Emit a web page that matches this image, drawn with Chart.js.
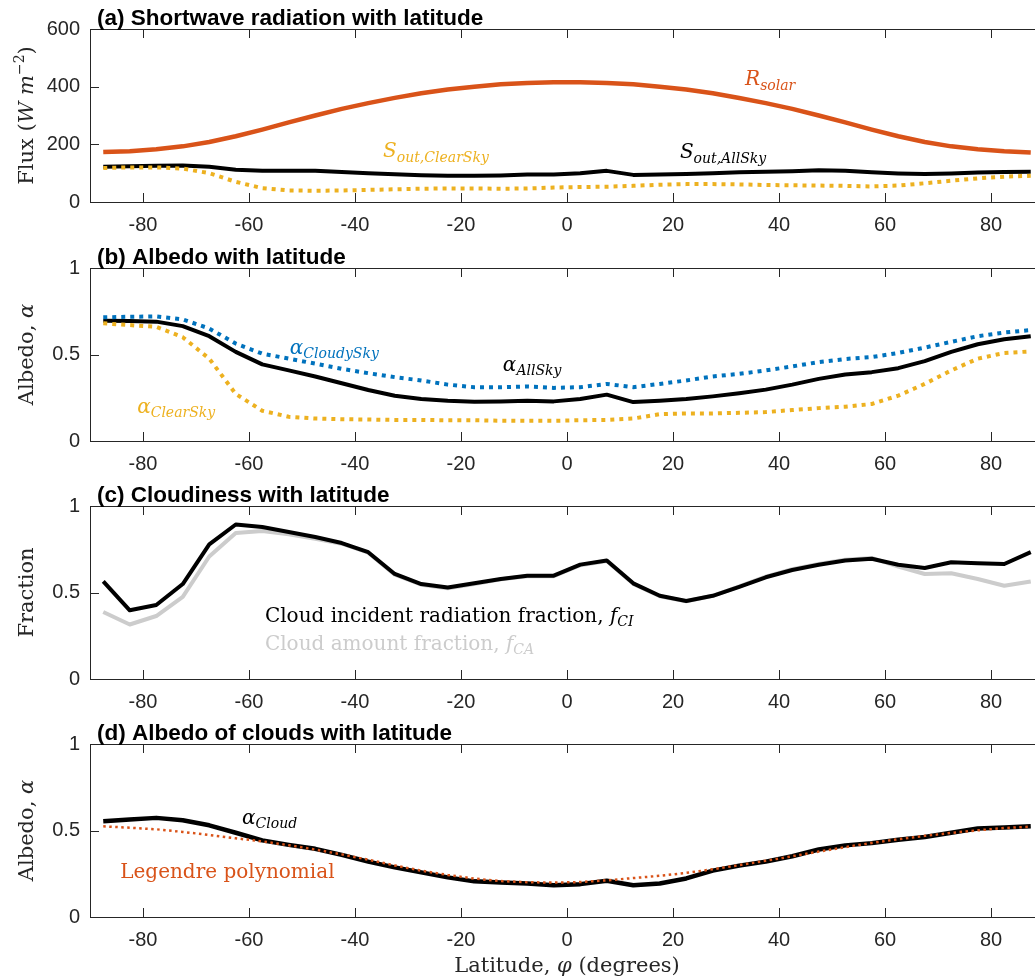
<!DOCTYPE html>
<html>
<head>
<meta charset="utf-8">
<script src="https://cdn.jsdelivr.net/npm/chart.js@4"></script>
<style>
  html, body { margin: 0; padding: 0; background: #fff; overflow: hidden; width: 1035px; height: 980px; }
  canvas { position: absolute; left: 0; }
</style>
</head>
<body>
<canvas id="pa" width="1100" height="240" style="top:0px"></canvas>
<canvas id="pb" width="1100" height="240" style="top:239px"></canvas>
<canvas id="pc" width="1100" height="240" style="top:477px"></canvas>
<canvas id="pd" width="1100" height="265" style="top:715px"></canvas>
<script>
// latitude band centres (degrees)
const lat = [-87.5, -82.5, -77.5, -72.5, -67.5, -62.5, -57.5, -52.5, -47.5, -42.5, -37.5, -32.5,
  -27.5, -22.5, -17.5, -12.5, -7.5, -2.5, 2.5, 7.5, 12.5, 17.5, 22.5, 27.5,
  32.5, 37.5, 42.5, 47.5, 52.5, 57.5, 62.5, 67.5, 72.5, 77.5, 82.5, 87.5];

// (a) fluxes, W m^-2
const rSolar = [173, 176, 183, 193, 208, 228, 251, 276, 300, 323, 343, 361, 377, 390, 400, 408, 413, 415,
  415, 413, 408, 400, 390, 377, 361, 343, 323, 300, 276, 251, 228, 208, 193, 183, 176, 172];
const sOutAllSky = [122, 124, 126, 127, 122, 112, 108, 108, 108, 104, 100, 96, 93, 91, 91, 92, 95, 95,
  100, 108, 94, 95, 97, 100, 103, 105, 107, 110, 108, 103, 99, 97, 99, 102, 104, 105];
const sOutClearSky = [118, 120, 120, 116, 100, 70, 48, 40, 39, 40, 42, 44, 46, 47, 47, 46, 47, 50,
  52, 53, 56, 60, 62, 62, 61, 59, 58, 57, 56, 54, 57, 65, 74, 82, 88, 91];

// (b) albedo
const albedoAllSky = [0.695, 0.693, 0.69, 0.664, 0.606, 0.515, 0.443, 0.408, 0.373, 0.334, 0.295, 0.262,
  0.243, 0.233, 0.227, 0.229, 0.233, 0.229, 0.243, 0.268, 0.225, 0.233, 0.243, 0.258,
  0.276, 0.297, 0.326, 0.359, 0.384, 0.398, 0.421, 0.462, 0.515, 0.559, 0.588, 0.606];
const albedoCloudySky = [0.715, 0.718, 0.72, 0.703, 0.65, 0.563, 0.505, 0.476, 0.447, 0.417, 0.392, 0.369,
  0.35, 0.326, 0.311, 0.311, 0.315, 0.307, 0.311, 0.33, 0.311, 0.33, 0.35, 0.373,
  0.388, 0.408, 0.431, 0.456, 0.474, 0.485, 0.509, 0.54, 0.573, 0.606, 0.627, 0.641];
const albedoClearSky = [0.68, 0.67, 0.66, 0.6, 0.476, 0.272, 0.175, 0.14, 0.13, 0.126, 0.124, 0.122,
  0.122, 0.12, 0.12, 0.117, 0.117, 0.117, 0.12, 0.122, 0.13, 0.155, 0.159, 0.159,
  0.163, 0.167, 0.179, 0.19, 0.198, 0.214, 0.262, 0.33, 0.408, 0.476, 0.509, 0.518];

// (c) cloudiness
const fracCI = [0.564, 0.397, 0.428, 0.549, 0.778, 0.893, 0.879, 0.85, 0.821, 0.786, 0.733, 0.607,
  0.549, 0.529, 0.553, 0.578, 0.597, 0.597, 0.661, 0.685, 0.553, 0.481, 0.451, 0.481,
  0.533, 0.588, 0.63, 0.66, 0.685, 0.695, 0.66, 0.642, 0.675, 0.669, 0.665, 0.733];
const fracCA = [0.387, 0.315, 0.364, 0.475, 0.708, 0.844, 0.856, 0.837, 0.811, 0.782, 0.73, 0.603,
  0.545, 0.525, 0.549, 0.576, 0.594, 0.594, 0.658, 0.682, 0.55, 0.478, 0.449, 0.481,
  0.535, 0.592, 0.635, 0.665, 0.69, 0.7, 0.65, 0.607, 0.611, 0.578, 0.539, 0.564];

// (d) cloud albedo and its Legendre fit
const albedoCloud = [0.553, 0.563, 0.573, 0.559, 0.53, 0.487, 0.443, 0.417, 0.394, 0.359, 0.32, 0.287,
  0.258, 0.229, 0.206, 0.2, 0.194, 0.184, 0.19, 0.21, 0.184, 0.194, 0.223, 0.268,
  0.297, 0.32, 0.351, 0.39, 0.414, 0.427, 0.447, 0.462, 0.487, 0.511, 0.517, 0.524];
const legendreFit = [0.524, 0.516, 0.507, 0.492, 0.474, 0.455, 0.437, 0.415, 0.39, 0.362, 0.331, 0.298,
  0.268, 0.243, 0.222, 0.208, 0.201, 0.199, 0.202, 0.212, 0.225, 0.238, 0.255, 0.276,
  0.3, 0.325, 0.351, 0.378, 0.404, 0.428, 0.45, 0.469, 0.486, 0.501, 0.514, 0.522];

// tick labels
const xTicks = [-80, -60, -40, -20, 0, 20, 40, 60, 80];
const fluxTicks = [0, 200, 400, 600];
const unitTicks = [0, 0.5, 1];

const RED = '#D95319', YEL = '#EDB120', BLUE = '#0072BD', GREY = '#CCCCCC', AX = '#262626';
const SERIF = '"DejaVu Serif", serif';
const SANS = '"Liberation Sans", Arial, sans-serif';

const pts = ys => ys.map((y, i) => ({ x: lat[i], y: y }));

function richText(ctx, segs, x, y, color, centred, big) {
  const main = big ? 21 : 20;
  const size = s => (s.sub || s.sup) ? 14 : main;
  const font = s => (s.it ? 'italic ' : '') + size(s) + 'px ' + SERIF;
  let w = 0;
  segs.forEach(s => { ctx.font = font(s); w += ctx.measureText(s.t).width; });
  let cx = centred ? x - w / 2 : x;
  ctx.fillStyle = color;
  ctx.textBaseline = 'middle';
  ctx.textAlign = 'left';
  segs.forEach(s => {
    ctx.font = font(s);
    const dy = s.sub ? 6 : (s.sup ? -8 : 0);
    ctx.fillText(s.t, cx, y + dy);
    cx += ctx.measureText(s.t).width;
  });
}

function framePlugin(cfg) {
  return {
    id: 'frame',
    afterDraw(chart) {
      const ctx = chart.ctx, a = chart.chartArea;
      const xs = chart.scales.x, ys = chart.scales.y;
      ctx.save();
      // box with inward ticks
      ctx.strokeStyle = AX;
      ctx.lineWidth = 1;
      ctx.strokeRect(Math.round(a.left) + 0.5, Math.round(a.top) + 0.5, a.right - a.left, a.bottom - a.top);
      ctx.beginPath();
      xTicks.forEach(v => {
        const px = Math.round(xs.getPixelForValue(v)) + 0.5;
        ctx.moveTo(px, a.bottom); ctx.lineTo(px, a.bottom - 9);
        ctx.moveTo(px, a.top); ctx.lineTo(px, a.top + 9);
      });
      cfg.yTicks.forEach(v => {
        const py = Math.round(ys.getPixelForValue(v)) + 0.5;
        ctx.moveTo(a.left, py); ctx.lineTo(a.left + 9, py);
        ctx.moveTo(a.right, py); ctx.lineTo(a.right - 9, py);
      });
      ctx.stroke();
      // panel title
      ctx.fillStyle = '#000';
      ctx.font = 'bold 22.5px ' + SANS;
      ctx.textAlign = 'left';
      ctx.textBaseline = 'alphabetic';
      ctx.fillText(cfg.title, 97, a.top - 4);
      // y axis title
      ctx.save();
      ctx.translate(28, (a.top + a.bottom) / 2);
      ctx.rotate(-Math.PI / 2);
      richText(ctx, cfg.yTitle, 0, 0, AX, true, true);
      ctx.restore();
      if (cfg.xTitle) richText(ctx, cfg.xTitle, xs.getPixelForValue(0), a.bottom + 50, AX, true, true);
      // inline labels
      cfg.notes.forEach(n => {
        richText(ctx, n.segs, xs.getPixelForValue(n.at[0]), ys.getPixelForValue(n.at[1]), n.color, false, false);
      });
      ctx.restore();
    }
  };
}

function makePanel(id, datasets, yMax, yTicks, cfg) {
  const canvas = document.getElementById(id);
  const xHeight = canvas.height - 29 - 173;
  cfg.yTicks = yTicks;
  return new Chart(canvas, {
    type: 'line',
    data: { datasets: datasets },
    options: {
      responsive: false,
      animation: false,
      devicePixelRatio: 1,
      layout: { padding: { top: 29, right: 56, left: 0, bottom: 0 } },
      plugins: { legend: { display: false }, tooltip: { enabled: false } },
      elements: { point: { radius: 0 }, line: { tension: 0, borderJoinStyle: 'round' } },
      scales: {
        x: {
          type: 'linear', min: -90, max: 90,
          grid: { display: false, drawTicks: false }, border: { display: false },
          afterBuildTicks: s => { s.ticks = xTicks.map(v => ({ value: v })); },
          afterFit: s => { s.height = xHeight; },
          ticks: { padding: 11, color: AX, font: { family: SANS, size: 20 }, callback: v => String(v) }
        },
        y: {
          min: 0, max: yMax,
          grid: { display: false, drawTicks: false }, border: { display: false },
          afterBuildTicks: s => { s.ticks = yTicks.map(v => ({ value: v })); },
          afterFit: s => { s.width = 90; },
          ticks: { padding: 10, color: AX, font: { family: SANS, size: 20 }, callback: v => String(v) }
        }
      }
    },
    plugins: [framePlugin(cfg)]
  });
}

const dotted = [4, 5];

makePanel('pa', [
  { data: pts(sOutClearSky), borderColor: YEL, borderWidth: 4, borderDash: dotted, borderCapStyle: 'butt' },
  { data: pts(sOutAllSky), borderColor: '#000', borderWidth: 4 },
  { data: pts(rSolar), borderColor: RED, borderWidth: 4.5 }
], 600, fluxTicks, {
  title: '(a) Shortwave radiation with latitude',
  yTitle: [{ t: 'Flux (' }, { t: 'W m', it: 1 }, { t: '\u22122', sup: 1 }, { t: ')' }],
  notes: [
    { segs: [{ t: 'R', it: 1 }, { t: 'solar', it: 1, sub: 1 }], at: [33.6, 423], color: RED },
    { segs: [{ t: 'S', it: 1 }, { t: 'out,ClearSky', it: 1, sub: 1 }], at: [-34.7, 173], color: YEL },
    { segs: [{ t: 'S', it: 1 }, { t: 'out,AllSky', it: 1, sub: 1 }], at: [21.3, 170], color: '#000' }
  ]
});

makePanel('pb', [
  { data: pts(albedoClearSky), borderColor: YEL, borderWidth: 4, borderDash: dotted, borderCapStyle: 'butt' },
  { data: pts(albedoCloudySky), borderColor: BLUE, borderWidth: 4, borderDash: dotted, borderCapStyle: 'butt' },
  { data: pts(albedoAllSky), borderColor: '#000', borderWidth: 4 }
], 1, unitTicks, {
  title: '(b) Albedo with latitude',
  yTitle: [{ t: 'Albedo, ' }, { t: '\u03b1', it: 1 }],
  notes: [
    { segs: [{ t: '\u03b1', it: 1 }, { t: 'CloudySky', it: 1, sub: 1 }], at: [-52.3, 0.535], color: BLUE },
    { segs: [{ t: '\u03b1', it: 1 }, { t: 'AllSky', it: 1, sub: 1 }], at: [-12.1, 0.436], color: '#000' },
    { segs: [{ t: '\u03b1', it: 1 }, { t: 'ClearSky', it: 1, sub: 1 }], at: [-81.1, 0.192], color: YEL }
  ]
});

makePanel('pc', [
  { data: pts(fracCI), borderColor: '#000', borderWidth: 4 },
  { data: pts(fracCA), borderColor: GREY, borderWidth: 4 }
], 1, unitTicks, {
  title: '(c) Cloudiness with latitude',
  yTitle: [{ t: 'Fraction' }],
  notes: [
    { segs: [{ t: 'Cloud incident radiation fraction, ' }, { t: 'f', it: 1 }, { t: 'CI', it: 1, sub: 1 }], at: [-57, 0.36], color: '#000' },
    { segs: [{ t: 'Cloud amount fraction, ' }, { t: 'f', it: 1 }, { t: 'CA', it: 1, sub: 1 }], at: [-57, 0.198], color: GREY }
  ]
});

makePanel('pd', [
  { data: pts(legendreFit), borderColor: RED, borderWidth: 2.5, borderDash: [2.5, 3.5], borderCapStyle: 'butt' },
  { data: pts(albedoCloud), borderColor: '#000', borderWidth: 4.5 }
], 1, unitTicks, {
  title: '(d) Albedo of clouds with latitude',
  yTitle: [{ t: 'Albedo, ' }, { t: '\u03b1', it: 1 }],
  xTitle: [{ t: 'Latitude, ' }, { t: '\u03c6', it: 1 }, { t: ' (degrees)' }],
  notes: [
    { segs: [{ t: '\u03b1', it: 1 }, { t: 'Cloud', it: 1, sub: 1 }], at: [-61.3, 0.57], color: '#000' },
    { segs: [{ t: 'Legendre polynomial' }], at: [-84.3, 0.256], color: RED }
  ]
});
</script>
</body>
</html>
